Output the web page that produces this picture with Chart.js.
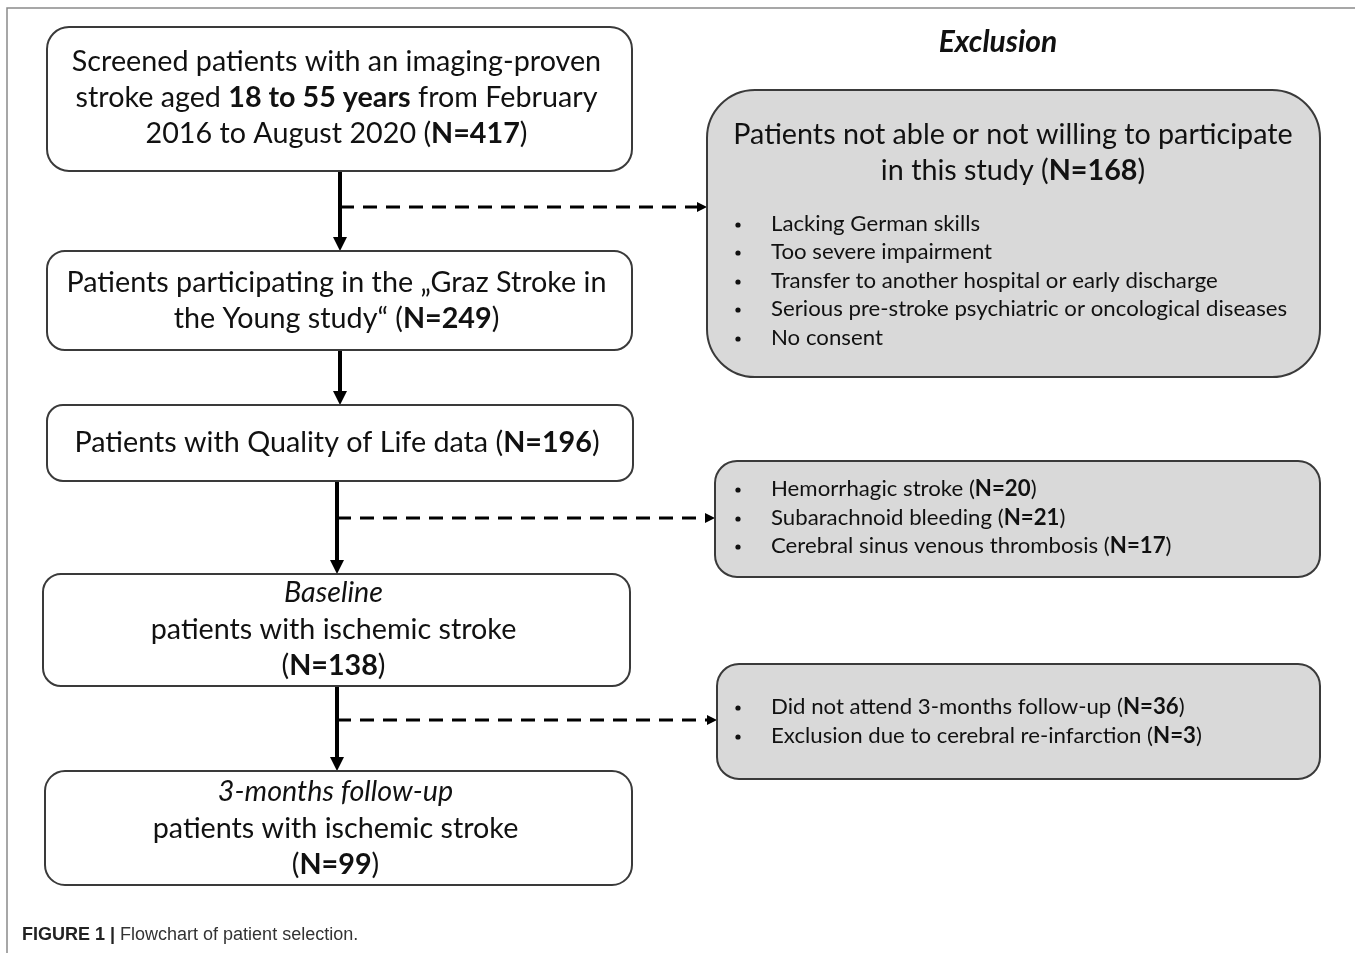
<!DOCTYPE html>
<html>
<head>
<meta charset="utf-8">
<script src="https://cdn.jsdelivr.net/npm/chart.js@4.4.0/dist/chart.umd.min.js"></script>
<style>
html, body { margin: 0; padding: 0; background: #fff; }
canvas { display: block; }
</style>
</head>
<body>
<canvas id="flow" width="1355" height="953"></canvas>
<script>
// --- data: counts and labels of the flowchart ---
var stageCounts = [417, 249, 196, 138, 99];
var stageText = [
    ['Screened patients with an imaging-proven', 'stroke aged **18 to 55 years** from February', '2016 to August 2020 (**N={n}**)'],
    ['Patients participating in the \u201EGraz Stroke in', 'the Young study\u201C (**N={n}**)'],
    ['Patients with Quality of Life data (**N={n}**)'],
    ['_Baseline_', 'patients with ischemic stroke', '(**N={n}**)'],
    ['_3-months follow-up_', 'patients with ischemic stroke', '(**N={n}**)']
];
var exclTitle = 'Exclusion';
var exclHeader = ['Patients not able or not willing to participate', 'in this study (**N={n}**)'];
var exclHeaderCount = 168;
var exclReasons1 = ['Lacking German skills', 'Too severe impairment', 'Transfer to another hospital or early discharge',
    'Serious pre-stroke psychiatric or oncological diseases', 'No consent'];
var exclReasons2 = ['Hemorrhagic stroke', 'Subarachnoid bleeding', 'Cerebral sinus venous thrombosis'];
var exclCounts2 = [20, 21, 17];
var exclReasons3 = ['Did not attend 3-months follow-up', 'Exclusion due to cerebral re-infarction'];
var exclCounts3 = [36, 3];
var captionBold = 'FIGURE 1 |';
var captionText = ' Flowchart of patient selection.';

// --- layout (figure units, mapped through the chart scales) ---
var stageBoxes = [
    { x0: 47, y0: 27, x1: 632, y1: 171, r: 22, lines: [62, 98, 134] },
    { x0: 47, y0: 251, x1: 632, y1: 350, r: 18, lines: [283, 319] },
    { x0: 47, y0: 405, x1: 633, y1: 481, r: 16, lines: [443] },
    { x0: 43, y0: 574, x1: 630, y1: 686, r: 18, lines: [593, 630, 666] },
    { x0: 45, y0: 771, x1: 632, y1: 885, r: 20, lines: [792, 829, 865] }
];
var exclBoxes = [
    { x0: 707, y0: 90, x1: 1320, y1: 377, r: 48, head: [135, 171], lines: [224, 252, 281, 309, 338] },
    { x0: 715, y0: 461, x1: 1320, y1: 577, r: 22, lines: [489, 518, 546] },
    { x0: 717, y0: 664, x1: 1320, y1: 779, r: 22, lines: [707, 736] }
];
var solidArrows = [[340, 171, 251], [340, 350, 405], [337, 481, 574], [337, 686, 771]];
var dashArrows = [[207, 340, 707], [518, 337, 715], [720, 337, 717]];

var FAMILY = 'Lato, "Noto Sans", sans-serif';

function parseRuns(str) {
    var parts = str.split(/(\*\*[^*]+\*\*|_[^_]+_)/);
    var out = [];
    parts.forEach(function (p) {
        if (!p) return;
        if (p.indexOf('**') === 0) out.push({ t: p.slice(2, -2), w: 'bold', s: 'normal' });
        else if (p.charAt(0) === '_' && p.length > 2) out.push({ t: p.slice(1, -1), w: 'normal', s: 'italic' });
        else out.push({ t: p, w: 'normal', s: 'normal' });
    });
    return out;
}

function drawText(ctx, str, x, y, size, align, squeeze, base) {
    var runs = parseRuns(str);
    var total = 0;
    var fontOf = function (r) {
        return r.s + ' ' + (base && r.w === 'normal' ? base : r.w) + ' ' + size + 'px ' + FAMILY;
    };
    runs.forEach(function (r) {
        ctx.font = fontOf(r);
        r.width = ctx.measureText(r.t).width;
        total += r.width;
    });
    ctx.save();
    ctx.translate(x, y);
    ctx.scale(squeeze, 1);
    var cx = align === 'center' ? -total / 2 : 0;
    ctx.textBaseline = 'middle';
    ctx.textAlign = 'left';
    ctx.fillStyle = '#111';
    runs.forEach(function (r) {
        ctx.font = fontOf(r);
        ctx.fillText(r.t, cx, 0);
        cx += r.width;
    });
    ctx.restore();
}

function roundBox(ctx, x0, y0, x1, y1, r, fill) {
    ctx.beginPath();
    ctx.moveTo(x0 + r, y0);
    ctx.arcTo(x1, y0, x1, y1, r);
    ctx.arcTo(x1, y1, x0, y1, r);
    ctx.arcTo(x0, y1, x0, y0, r);
    ctx.arcTo(x0, y0, x1, y0, r);
    ctx.closePath();
    ctx.fillStyle = fill;
    ctx.fill();
    ctx.lineWidth = 2;
    ctx.strokeStyle = '#3a3a3a';
    ctx.stroke();
}

var flowPlugin = {
    id: 'flowchart',
    afterDraw: function (chart) {
        var ctx = chart.ctx;
        var sx = chart.scales.x, sy = chart.scales.y;
        var X = function (v) { return sx.getPixelForValue(v); };
        var Y = function (v) { return sy.getPixelForValue(v); };

        ctx.save();
        // frame
        ctx.strokeStyle = '#8a8a8a';
        ctx.lineWidth = 1.5;
        ctx.beginPath();
        ctx.moveTo(X(7), Y(953));
        ctx.lineTo(X(7), Y(8));
        ctx.lineTo(X(1355), Y(8));
        ctx.stroke();

        // solid arrows
        solidArrows.forEach(function (a) {
            ctx.strokeStyle = '#000';
            ctx.lineWidth = 4;
            ctx.beginPath();
            ctx.moveTo(X(a[0]), Y(a[1]));
            ctx.lineTo(X(a[0]), Y(a[2] - 10));
            ctx.stroke();
            ctx.fillStyle = '#000';
            ctx.beginPath();
            ctx.moveTo(X(a[0] - 7), Y(a[2] - 14));
            ctx.lineTo(X(a[0] + 7), Y(a[2] - 14));
            ctx.lineTo(X(a[0]), Y(a[2]));
            ctx.closePath();
            ctx.fill();
        });

        // dashed arrows
        dashArrows.forEach(function (a) {
            ctx.strokeStyle = '#000';
            ctx.lineWidth = 3;
            ctx.setLineDash([14, 9]);
            ctx.beginPath();
            ctx.moveTo(X(a[1]), Y(a[0]));
            ctx.lineTo(X(a[2] - 8), Y(a[0]));
            ctx.stroke();
            ctx.setLineDash([]);
            ctx.fillStyle = '#000';
            ctx.beginPath();
            ctx.moveTo(X(a[2] - 10), Y(a[0] - 5));
            ctx.lineTo(X(a[2] - 10), Y(a[0] + 5));
            ctx.lineTo(X(a[2]), Y(a[0]));
            ctx.closePath();
            ctx.fill();
        });

        // stage boxes
        stageBoxes.forEach(function (b, i) {
            roundBox(ctx, X(b.x0), Y(b.y0), X(b.x1), Y(b.y1), b.r, '#fff');
            var cx = X((b.x0 + b.x1) / 2 - 3);
            stageText[i].forEach(function (line, j) {
                drawText(ctx, line.replace('{n}', stageCounts[i]), cx, Y(b.lines[j]), 29, 'center', 0.99);
            });
        });

        // exclusion title
        drawText(ctx, '_' + exclTitle + '_', X(998), Y(42), 30, 'center', 1.0, 'bold');

        // exclusion boxes
        var reasons = [
            exclReasons1,
            exclReasons2.map(function (r, k) { return r + ' (**N=' + exclCounts2[k] + '**)'; }),
            exclReasons3.map(function (r, k) { return r + ' (**N=' + exclCounts3[k] + '**)'; })
        ];
        exclBoxes.forEach(function (b, i) {
            roundBox(ctx, X(b.x0), Y(b.y0), X(b.x1), Y(b.y1), b.r, '#d9d9d9');
            if (b.head) {
                b.head.forEach(function (hy, j) {
                    drawText(ctx, exclHeader[j].replace('{n}', exclHeaderCount), X(1013), Y(hy), 29, 'center', 0.99);
                });
            }
            reasons[i].forEach(function (txt, j) {
                ctx.fillStyle = '#111';
                ctx.beginPath();
                ctx.arc(X(738), Y(b.lines[j] + 1), 2.6, 0, Math.PI * 2);
                ctx.fill();
                drawText(ctx, txt, X(771), Y(b.lines[j]), 22, 'left', 1.01);
            });
        });

        // caption
        ctx.fillStyle = '#222';
        ctx.textBaseline = 'middle';
        ctx.textAlign = 'left';
        ctx.font = 'bold 18px "Liberation Sans", Arial, sans-serif';
        ctx.fillText(captionBold, X(22), Y(935));
        var w = ctx.measureText(captionBold).width;
        ctx.font = '18px "Liberation Sans", Arial, sans-serif';
        ctx.fillStyle = '#333';
        ctx.fillText(captionText, X(22) + w, Y(935));
        ctx.restore();
    }
};

new Chart(document.getElementById('flow'), {
    type: 'scatter',
    data: { datasets: [] },
    options: {
        responsive: false,
        animation: false,
        events: [],
        layout: { padding: 0 },
        plugins: { legend: { display: false }, tooltip: { enabled: false } },
        scales: {
            x: { type: 'linear', min: 0, max: 1355, display: false },
            y: { type: 'linear', min: 0, max: 953, reverse: true, display: false }
        }
    },
    plugins: [flowPlugin]
});
</script>
</body>
</html>
